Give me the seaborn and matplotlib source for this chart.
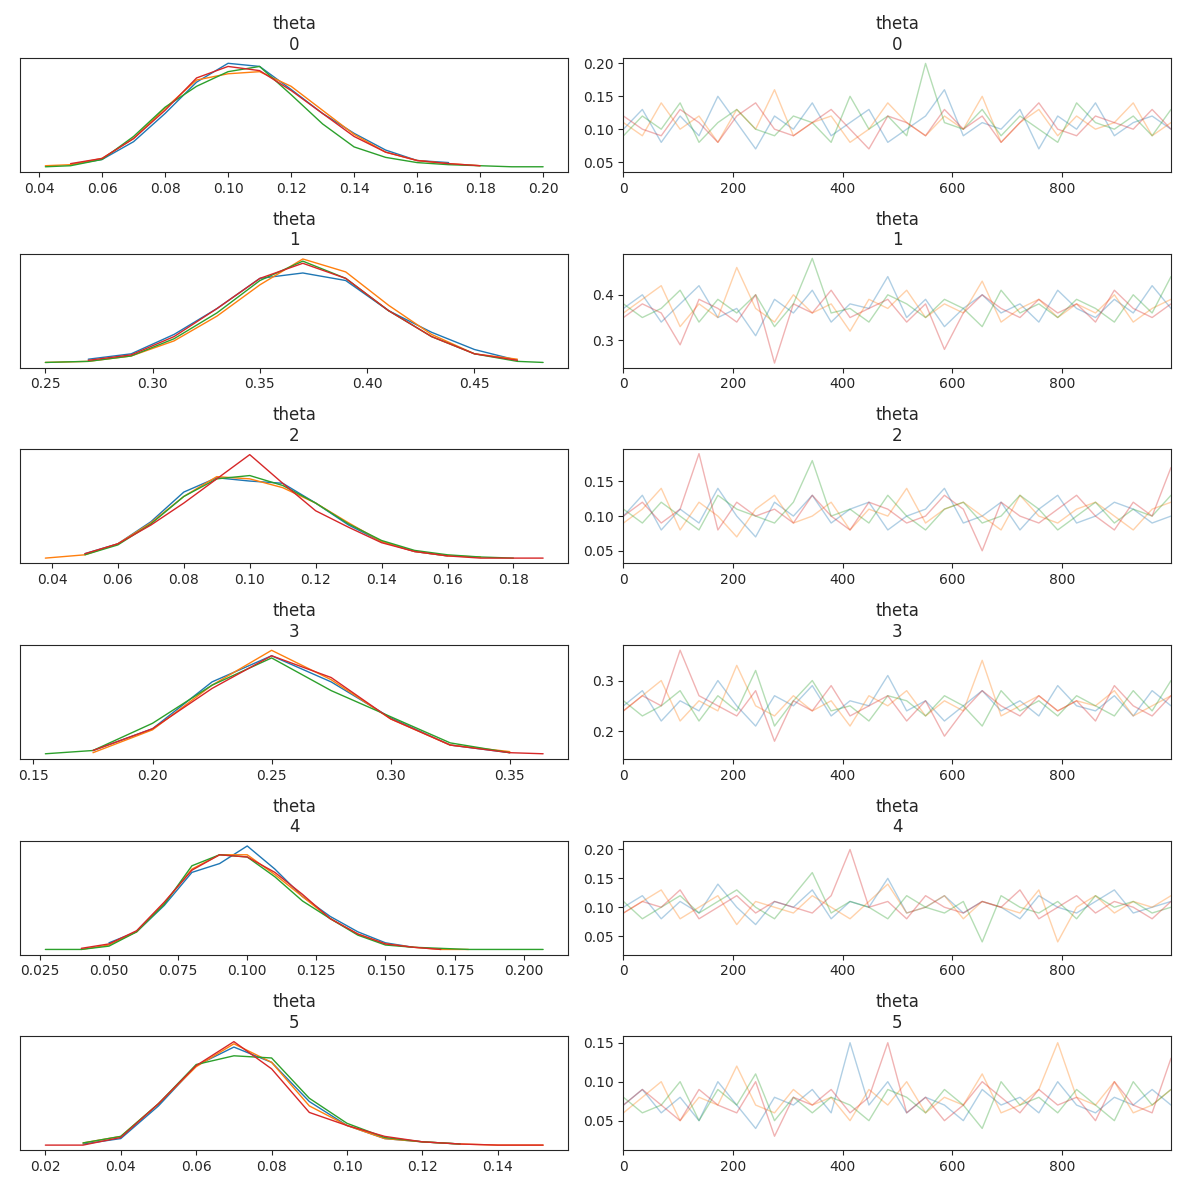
import numpy as np
import pandas as pd
import matplotlib
matplotlib.use("Agg")
import matplotlib.pyplot as plt
import seaborn as sns

sns.set_style("ticks")
plt.rcParams['font.family'] = ['DejaVu Sans']

colors = ["#1f77b4", "#ff7f0e", "#2ca02c", "#d62728"]
params = ["0", "1", "2", "3", "4", "5"]

# KDE curves (relative heights, y axis hidden)
kde_x = [
    [0.042, 0.05, 0.06, 0.07, 0.08, 0.09, 0.10, 0.11, 0.12, 0.13, 0.14, 0.15, 0.16, 0.17, 0.18, 0.19, 0.20],
    [0.25, 0.27, 0.29, 0.31, 0.33, 0.35, 0.37, 0.39, 0.41, 0.43, 0.45, 0.47, 0.482],
    [0.038, 0.05, 0.06, 0.07, 0.08, 0.09, 0.10, 0.11, 0.12, 0.13, 0.14, 0.15, 0.16, 0.17, 0.18, 0.189],
    [0.155, 0.175, 0.20, 0.225, 0.25, 0.275, 0.30, 0.325, 0.35, 0.364],
    [0.027, 0.04, 0.05, 0.06, 0.07, 0.08, 0.09, 0.10, 0.11, 0.12, 0.13, 0.14, 0.15, 0.16, 0.17, 0.18, 0.197, 0.207],
    [0.02, 0.03, 0.04, 0.05, 0.06, 0.07, 0.08, 0.09, 0.10, 0.11, 0.12, 0.13, 0.14, 0.152],
]
N = None
kde_y = [
    [[N, .03, .08, .25, .52, .82, 1.0, .97, .75, .52, .33, .17, .07, .05, N, N, N],
     [.02, .03, .09, .28, .57, .84, .90, .92, .78, .55, .32, .15, .07, .04, .02, N, N],
     [.01, .02, .08, .30, .58, .78, .92, .97, .70, .42, .20, .10, .05, .03, .02, .01, .01],
     [N, .04, .09, .28, .55, .86, .97, .93, .74, .52, .30, .15, .07, .04, .02, N, N]],
    [[N, .05, .10, .28, .52, .80, .85, .78, .50, .30, .14, .04, N],
     [.02, .03, .08, .22, .45, .74, .98, .86, .55, .28, .10, .05, N],
     [.02, .03, .08, .24, .48, .78, .96, .80, .50, .26, .10, .03, .02],
     [N, .04, .09, .26, .52, .80, .94, .80, .50, .26, .10, .04, N]],
    [[N, .06, .15, .35, .62, .75, .72, .70, .52, .32, .17, .08, .04, N, N, N],
     [.02, .05, .15, .34, .58, .76, .74, .66, .52, .34, .17, .08, .04, .03, N, N],
     [N, .05, .14, .33, .58, .74, .77, .68, .52, .33, .18, .09, .05, .03, .02, N],
     [N, .06, .15, .32, .52, .74, .96, .70, .45, .30, .16, .08, .04, .02, .02, .02]],
    [[N, .05, .25, .68, .92, .68, .35, .10, .03, N],
     [N, .03, .24, .65, .97, .70, .34, .10, .04, N],
     [.02, .05, .30, .65, .90, .60, .36, .12, .03, N],
     [N, .05, .25, .62, .92, .72, .34, .10, .03, .02]],
    [[N, N, .08, .18, .42, .72, .80, .96, .75, .50, .32, .18, .08, .04, N, N, N, N],
     [N, .02, .06, .18, .44, .75, .88, .88, .70, .50, .30, .16, .07, .04, .02, .02, N, N],
     [.02, .02, .05, .18, .43, .78, .88, .86, .68, .46, .30, .15, .06, .04, .03, .02, .02, .02],
     [N, .03, .07, .19, .45, .74, .88, .86, .72, .52, .30, .16, .07, .04, .02, N, N, N]],
    [[N, .03, .08, .38, .75, .92, .78, .42, .20, .08, .05, .03, N, N],
     [N, .04, .10, .40, .74, .95, .78, .38, .20, .08, .05, .03, .02, .02],
     [N, .04, .10, .40, .76, .84, .82, .45, .22, .09, .05, .03, N, N],
     [.02, .02, .09, .40, .75, .97, .72, .32, .20, .10, .05, .03, .02, .02]],
]

# trace samples (hand-read, thinned) per parameter and chain
trace = [
    [[.10, .13, .08, .12, .09, .15, .11, .07, .12, .10, .14, .09, .11, .13, .08, .10, .12, .16, .09, .11, .10, .13, .07, .12, .10, .14, .09, .11, .12, .10],
     [.11, .09, .14, .10, .12, .08, .13, .10, .16, .09, .11, .12, .08, .10, .14, .11, .09, .12, .10, .15, .08, .11, .13, .09, .12, .10, .11, .14, .09, .11],
     [.09, .12, .10, .14, .08, .11, .13, .10, .09, .12, .11, .08, .15, .10, .12, .09, .20, .11, .10, .13, .09, .12, .10, .08, .14, .11, .10, .12, .09, .13],
     [.12, .10, .09, .13, .11, .08, .12, .14, .10, .09, .11, .13, .10, .07, .12, .11, .09, .13, .10, .12, .08, .11, .14, .10, .09, .12, .11, .10, .13, .10]],
    [[.37, .40, .34, .38, .42, .35, .37, .31, .39, .36, .41, .34, .38, .37, .44, .35, .39, .33, .37, .40, .36, .38, .34, .41, .37, .35, .39, .36, .42, .37],
     [.36, .39, .42, .33, .38, .35, .46, .37, .34, .40, .36, .38, .32, .39, .37, .41, .35, .38, .36, .43, .34, .37, .39, .35, .38, .36, .40, .34, .37, .39],
     [.38, .35, .37, .41, .34, .39, .36, .40, .33, .38, .48, .36, .37, .34, .40, .38, .35, .39, .37, .33, .41, .36, .38, .35, .39, .37, .34, .40, .36, .44],
     [.35, .38, .36, .29, .39, .37, .34, .40, .25, .38, .36, .41, .35, .37, .39, .34, .38, .28, .36, .40, .37, .35, .39, .36, .38, .34, .41, .37, .35, .38]],
    [[.10, .13, .08, .11, .09, .14, .10, .07, .12, .10, .13, .09, .11, .12, .08, .10, .11, .14, .09, .10, .12, .08, .11, .13, .09, .10, .12, .11, .09, .10],
     [.09, .11, .14, .08, .12, .10, .07, .11, .13, .09, .10, .12, .08, .11, .10, .14, .09, .11, .12, .10, .08, .13, .10, .09, .11, .12, .10, .08, .11, .12],
     [.11, .09, .12, .10, .08, .13, .11, .10, .09, .12, .18, .10, .11, .09, .13, .10, .08, .11, .12, .09, .10, .13, .11, .08, .10, .12, .09, .11, .10, .13],
     [.10, .12, .09, .11, .19, .08, .12, .10, .11, .09, .13, .10, .08, .12, .11, .09, .10, .13, .11, .05, .12, .10, .09, .11, .13, .10, .08, .12, .10, .17]],
    [[.25, .28, .22, .26, .24, .30, .25, .21, .27, .25, .29, .23, .26, .25, .31, .24, .26, .22, .25, .28, .24, .26, .23, .29, .25, .24, .27, .23, .28, .25],
     [.24, .27, .30, .22, .26, .24, .33, .25, .23, .27, .24, .26, .21, .27, .25, .28, .23, .26, .24, .34, .23, .25, .27, .24, .26, .25, .28, .23, .25, .27],
     [.26, .23, .25, .28, .22, .27, .24, .32, .21, .26, .30, .24, .25, .22, .27, .26, .23, .27, .25, .21, .28, .24, .26, .23, .27, .25, .23, .28, .24, .30],
     [.24, .27, .25, .36, .27, .25, .23, .28, .18, .26, .24, .29, .23, .25, .27, .22, .26, .19, .24, .28, .25, .23, .27, .24, .26, .22, .29, .25, .23, .27]],
    [[.10, .12, .08, .11, .09, .14, .10, .07, .11, .10, .13, .08, .11, .10, .15, .09, .10, .12, .09, .11, .10, .08, .12, .10, .09, .11, .13, .09, .10, .11],
     [.09, .11, .13, .08, .10, .12, .07, .11, .10, .09, .12, .10, .08, .11, .14, .09, .10, .12, .08, .11, .10, .09, .13, .04, .10, .12, .09, .11, .10, .12],
     [.11, .08, .10, .12, .09, .11, .13, .10, .08, .12, .16, .09, .11, .10, .08, .12, .10, .09, .11, .04, .12, .10, .09, .11, .08, .12, .10, .11, .09, .10],
     [.09, .11, .10, .13, .08, .10, .12, .09, .11, .10, .09, .12, .20, .10, .11, .08, .12, .10, .09, .11, .10, .13, .08, .10, .12, .09, .11, .10, .08, .11]],
    [[.07, .09, .06, .08, .05, .10, .07, .04, .08, .07, .09, .06, .15, .07, .10, .06, .08, .07, .05, .09, .07, .08, .06, .10, .07, .06, .08, .07, .09, .07],
     [.06, .08, .10, .05, .08, .07, .12, .07, .06, .09, .07, .08, .05, .09, .07, .10, .06, .08, .07, .11, .06, .07, .09, .15, .08, .07, .10, .06, .07, .09],
     [.08, .06, .07, .10, .05, .09, .07, .11, .05, .08, .06, .08, .07, .05, .09, .08, .06, .09, .07, .04, .10, .07, .08, .06, .09, .07, .05, .10, .07, .09],
     [.07, .09, .07, .05, .09, .07, .06, .10, .03, .08, .07, .09, .06, .08, .15, .06, .08, .05, .07, .10, .08, .06, .09, .07, .08, .05, .10, .07, .06, .13]],
]
trace_ylim = [(0.035, 0.208), (0.24, 0.49), (0.032, 0.196), (0.145, 0.37), (0.018, 0.215), (0.012, 0.158)]

fig, axes = plt.subplots(6, 2, figsize=(11.86, 11.89), dpi=100)

for i, p in enumerate(params):
    ax = axes[i, 0]
    for c in range(4):
        d = pd.DataFrame({"x": kde_x[i], "y": kde_y[i][c]}).dropna()
        sns.lineplot(data=d, x="x", y="y", ax=ax, color=colors[c], lw=1)
    ax.set_yticks([])
    ax.set_xlabel("")
    ax.set_ylabel("")
    ax.set_title("theta\n" + p)

    ax = axes[i, 1]
    n = len(trace[i][0])
    draws = np.linspace(0, 999, n)
    for c in range(4):
        sns.lineplot(x=draws, y=trace[i][c], ax=ax, color=colors[c], alpha=0.35, lw=1)
    ax.set_xlim(0, 999)
    ax.set_xticks([0, 200, 400, 600, 800])
    ax.set_ylim(*trace_ylim[i])
    ax.set_title("theta\n" + p)

plt.tight_layout()
plt.savefig("out.png", dpi=100)
